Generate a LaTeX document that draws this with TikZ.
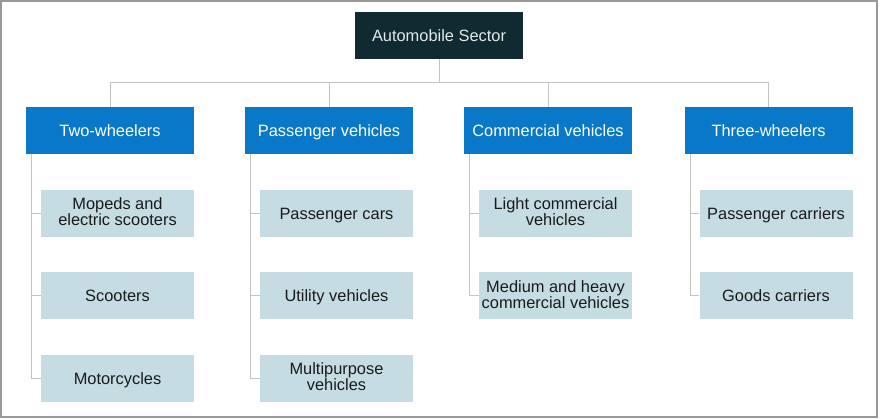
\documentclass[tikz,border=0pt]{standalone}
\usepackage{fontspec}
\setmainfont{Liberation Sans}
\definecolor{topc}{HTML}{0F2A30}
\definecolor{toptext}{HTML}{E4E8E8}
\definecolor{catc}{HTML}{0A78C8}
\definecolor{subc}{HTML}{C6DCE3}
\definecolor{subtext}{HTML}{1A1A1A}
\definecolor{linec}{HTML}{C4C4C4}
\definecolor{framec}{HTML}{999999}
\newcommand{\mystrut}{\rule[-3.5pt]{0pt}{18.4pt}}
\begin{document}
\begin{tikzpicture}[x=1pt,y=-1pt,
  box/.style={minimum width=168pt,minimum height=47pt,inner sep=0pt,
    font=\fontsize{16.4}{16}\selectfont,align=center,anchor=center,
    execute at begin node=\mystrut, execute at end node=\mystrut},
  topbox/.style={box,fill=topc,text=toptext},
  catbox/.style={box,fill=catc,text=white},
  subbox/.style={box,minimum width=153pt,fill=subc,text=subtext},
  conn/.style={draw=linec,line width=1pt}]
\fill[white] (0,0) rectangle (880,419);
\useasboundingbox (0,0) rectangle (880,419);
\draw[framec,line width=2pt] (1,1) rectangle (877,417);

\node[topbox] (root) at (439,35.5) {Automobile Sector};

\node[catbox] (c1) at (110,130.5) {Two-wheelers};
\node[catbox] (c2) at (329,130.5) {Passenger vehicles};
\node[catbox] (c3) at (548,130.5) {Commercial vehicles};
\node[catbox] (c4) at (768.5,130.5) {Three-wheelers};

\node[subbox] (s11) at (117.5,213.5) {Mopeds and\\electric scooters};
\node[subbox] (s12) at (117.5,296) {Scooters};
\node[subbox] (s13) at (117.5,378.5) {Motorcycles};

\node[subbox] (s21) at (336.5,213.5) {Passenger cars};
\node[subbox] (s22) at (336.5,296) {Utility vehicles};
\node[subbox] (s23) at (336.5,378.5) {Multipurpose\\vehicles};

\node[subbox] (s31) at (555.5,213.5) {Light commercial\\vehicles};
\node[subbox] (s32) at (555.5,296) {Medium and heavy\\commercial vehicles};

\node[subbox] (s41) at (776,213.5) {Passenger carriers};
\node[subbox] (s42) at (776,296) {Goods carriers};

\coordinate (bus) at (0,83);
\draw[conn] (root.south) -- (root.south |- bus);
\draw[conn] (c1.north) -- (c1.north |- bus) -| (c4.north);
\draw[conn] (c2.north) -- (c2.north |- bus);
\draw[conn] (c3.north) -- (c3.north |- bus);

\coordinate (t1) at ([xshift=6pt]c1.south west);
\coordinate (t2) at ([xshift=6pt]c2.south west);
\coordinate (t3) at ([xshift=6pt]c3.south west);
\coordinate (t4) at ([xshift=6pt]c4.south west);

\draw[conn] (t1) |- (s13.west);
\draw[conn] (t1 |- s11.west) -- (s11.west);
\draw[conn] (t1 |- s12.west) -- (s12.west);

\draw[conn] (t2) |- (s23.west);
\draw[conn] (t2 |- s21.west) -- (s21.west);
\draw[conn] (t2 |- s22.west) -- (s22.west);

\draw[conn] (t3) |- (s32.west);
\draw[conn] (t3 |- s31.west) -- (s31.west);

\draw[conn] (t4) |- (s42.west);
\draw[conn] (t4 |- s41.west) -- (s41.west);
\end{tikzpicture}
\end{document}
